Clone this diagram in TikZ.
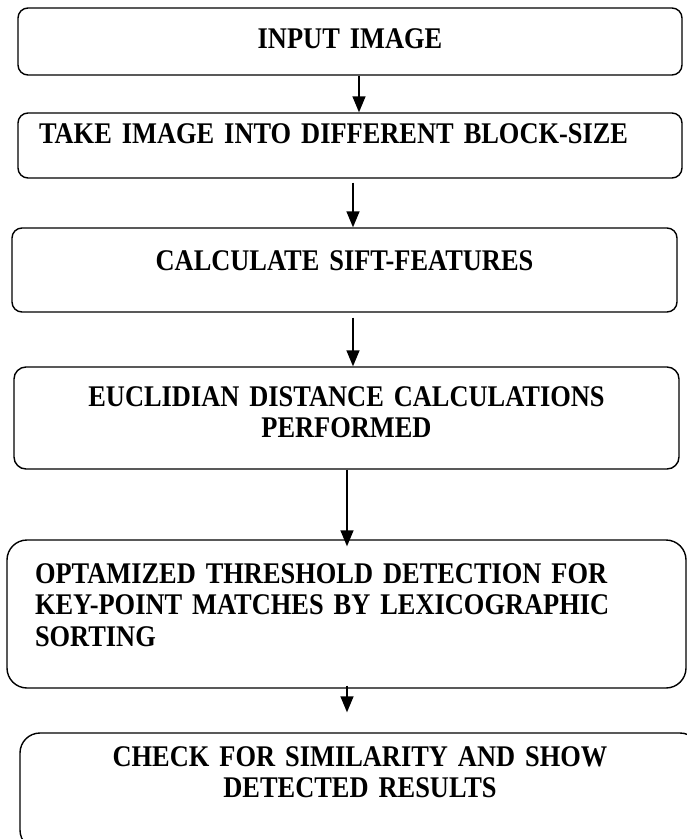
\documentclass[tikz,border=0pt]{standalone}
\usepackage{fontspec}
\setmainfont[FakeStretch=0.88]{Liberation Serif}
\usetikzlibrary{arrows.meta}

\begin{document}
\begin{tikzpicture}[x=1pt, y=-1pt,
      box/.style={draw, rounded corners=10pt, line width=1.4pt, align=center,
        inner xsep=0pt, inner ysep=0pt, text height=18pt,
        font=\bfseries\fontsize{30}{31.5}\selectfont},
      flow/.style={-{Triangle[length=16pt, width=13pt]}, line width=1.4pt}
    ]
    \useasboundingbox (0,0) rectangle (687,839);

    \node[box, text width=664pt, minimum height=67pt, text depth=5pt] (input) at (350,41.5) {INPUT IMAGE};
    \node[box, align=left, inner xsep=21pt, text width=622pt, minimum height=65pt, text depth=23pt] (blocks) at (350,145.5) {TAKE IMAGE INTO DIFFERENT BLOCK-SIZE};
    \node[box, text width=665pt, minimum height=84pt, text depth=18pt] (sift) at (344.5,270) {CALCULATE SIFT-FEATURES};
    \node[box, rounded corners=12pt, text width=665pt, minimum height=102pt, text depth=42pt] (euclid) at (346.5,418) {EUCLIDIAN DISTANCE CALCULATIONS\\PERFORMED};
    \node[box, rounded corners=20pt, align=left, inner xsep=28pt, text width=623pt, minimum height=148pt, text depth=80pt] (thresh) at (346.5,614) {OPTAMIZED THRESHOLD DETECTION FOR\\KEY-POINT MATCHES BY LEXICOGRAPHIC\\SORTING};
    \node[box, rounded corners=20pt, text width=680pt, minimum height=117pt, text depth=69pt] (result) at (360,791.5) {CHECK FOR SIMILARITY AND SHOW\\DETECTED RESULTS};

    \draw[flow] ([xshift=9pt]input.south) -- ([xshift=9pt]blocks.north);
    \draw[flow, shorten <=4pt] ([xshift=3pt]blocks.south) -- ([xshift=8.5pt]sift.north);
    \draw[flow, shorten <=5pt] ([xshift=8.5pt]sift.south) -- ([xshift=6.5pt]euclid.north);
    \draw[flow, shorten >=-7pt] ([xshift=0.5pt]euclid.south) -- ([xshift=0.5pt]thresh.north);
    \draw[flow, shorten <=-3pt, shorten >=20pt] ([xshift=0.5pt]thresh.south) -- ([xshift=-13pt]result.north);
  \end{tikzpicture}
\end{document}
